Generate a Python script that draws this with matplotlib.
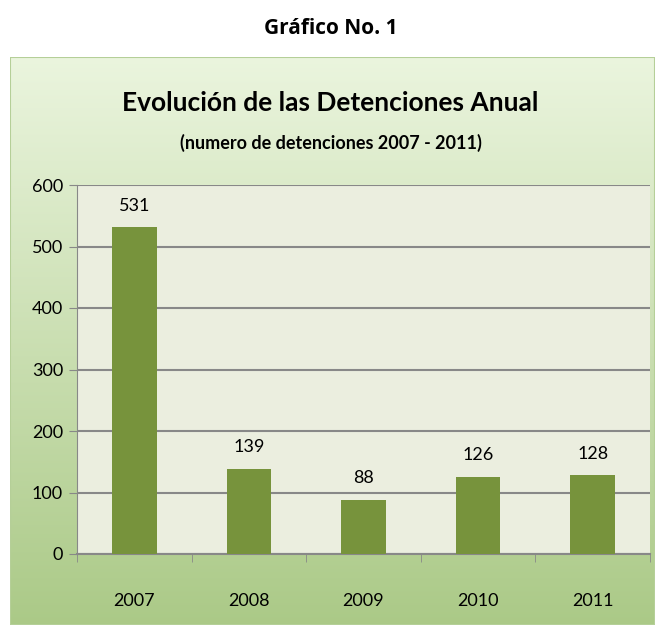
import numpy as np
import matplotlib.pyplot as plt
from matplotlib.patches import Rectangle

years = ['2007', '2008', '2009', '2010', '2011']
detenciones = [531, 139, 88, 126, 128]

plt.rcParams['font.family'] = ['Lato', 'DejaVu Sans']

W, H = 661, 628
fig = plt.figure(figsize=(W / 100, H / 100), dpi=100)

# gradient frame
x0, y0, x1, y1 = 10, 57, 655, 625
bg = fig.add_axes([x0 / W, 1 - y1 / H, (x1 - x0) / W, (y1 - y0) / H])
top = np.array([0.92, 0.96, 0.87])
bot = np.array([0.67, 0.79, 0.53])
t = np.linspace(0, 1, 256)[:, None]
grad = top * (1 - t) + bot * t
bg.imshow(grad[:, None, :], aspect='auto', extent=[0, 1, 0, 1])
bg.set_axis_off()
bg.add_patch(Rectangle((0, 0), 1, 1, fill=False, edgecolor='#b5cf98', lw=1.5,
                       transform=bg.transAxes))

fig.text(0.5, 1 - 28 / H, 'Gráfico No. 1', ha='center', va='center',
         fontsize=15, fontweight='bold', family=['Open Sans', 'DejaVu Sans'])
fig.text(0.5, 1 - 103 / H, 'Evolución de las Detenciones Anual', ha='center', va='center',
         fontsize=19, fontweight='bold')
fig.text(0.5, 1 - 143 / H, '(numero de detenciones 2007 - 2011)', ha='center', va='center',
         fontsize=13, fontweight='bold')

ax = fig.add_axes([77 / W, 1 - 554 / H, (650 - 77) / W, (554 - 185) / H])
ax.set_facecolor('#ebeedf')
x = np.arange(len(years))
bars = ax.bar(x, detenciones, width=0.39, color='#77933c', zorder=3)
for xi, v in zip(x, detenciones):
    ax.text(xi, v + 22, str(v), ha='center', va='bottom', fontsize=13)

ax.set_xlim(-0.5, len(years) - 0.5)
ax.set_ylim(0, 600)
ax.set_yticks(range(0, 601, 100))
ax.tick_params(axis='y', labelsize=13, length=6, color='#888888', pad=4)
ax.set_xticks(x)
ax.set_xticklabels(years)
ax.tick_params(axis='x', length=0, labelsize=13, pad=28)
ax.set_xticks(np.arange(-0.5, len(years)), minor=True)
ax.tick_params(axis='x', which='minor', length=6, color='#888888')
ax.grid(axis='y', color='#888888', lw=1.5, zorder=1)
for s in ['top', 'right']:
    ax.spines[s].set_visible(False)
ax.spines['left'].set_color('#888888')
ax.spines['bottom'].set_color('#888888')
ax.spines['bottom'].set_linewidth(1.5)

fig.savefig('out.png', dpi=100)
